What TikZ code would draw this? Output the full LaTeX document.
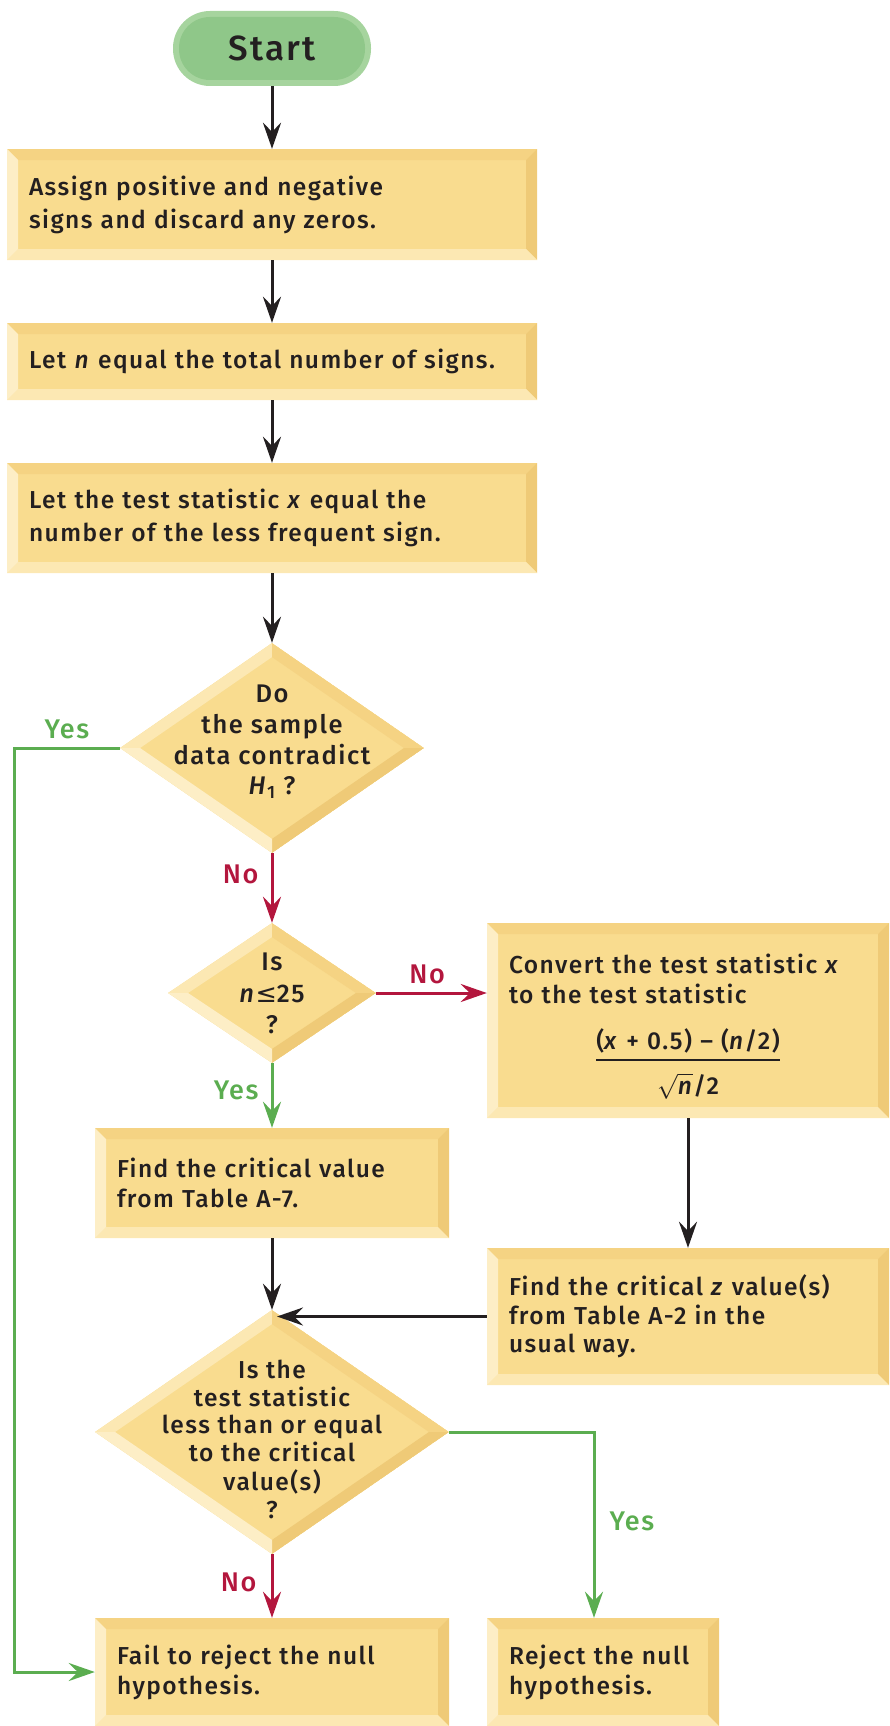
\documentclass[tikz,border=0pt]{standalone}
\usepackage{amsmath}
\usepackage{fontspec}
\setmainfont{Fira Sans}[UprightFont={* Medium}, ItalicFont={* Medium Italic}, LetterSpace=6]
\newfontfamily\symbolfont{DejaVu Sans}
\usetikzlibrary{shapes.geometric, arrows.meta}

\definecolor{ink}{HTML}{231F20}
\definecolor{boxfill}{HTML}{F9DC8F}
\definecolor{bevtop}{HTML}{F5D383}
\definecolor{bevright}{HTML}{EFCA77}
\definecolor{bevbottom}{HTML}{FCE8B3}
\definecolor{bevleft}{HTML}{FDEEC6}
\definecolor{startrim}{HTML}{A6D49E}
\definecolor{startcore}{HTML}{8FC789}
\definecolor{nored}{HTML}{B3163D}
\definecolor{yesgreen}{HTML}{5BAD50}

% centred multi-line text that does not enlarge the diamond it sits in
\newcommand\qtext[2][0pt]{\raisebox{#1}[0pt][0pt]{\makebox[0pt]{\begin{tabular}{@{}c@{}}#2\end{tabular}}}}

\tikzset{
  card/.style={rectangle, fill=boxfill, text=ink, align=left, inner xsep=22pt, inner ysep=0pt,
    font=\fontsize{24.5}{33}\selectfont,
    path picture={
      \coordinate (pp-nw) at (path picture bounding box.north west);
      \coordinate (pp-ne) at (path picture bounding box.north east);
      \coordinate (pp-se) at (path picture bounding box.south east);
      \coordinate (pp-sw) at (path picture bounding box.south west);
      \fill[bevtop] (pp-nw) -- (pp-ne) -- ([shift={(-11pt,-11pt)}]pp-ne) -- ([shift={(11pt,-11pt)}]pp-nw) -- cycle;
      \fill[bevright] (pp-ne) -- (pp-se) -- ([shift={(-11pt,11pt)}]pp-se) -- ([shift={(-11pt,-11pt)}]pp-ne) -- cycle;
      \fill[bevbottom] (pp-se) -- (pp-sw) -- ([shift={(11pt,11pt)}]pp-sw) -- ([shift={(-11pt,11pt)}]pp-se) -- cycle;
      \fill[bevleft] (pp-sw) -- (pp-nw) -- ([shift={(11pt,-11pt)}]pp-nw) -- ([shift={(11pt,11pt)}]pp-sw) -- cycle;
    }},
  decision/.style={diamond, fill=boxfill, text=ink, inner sep=0pt,
    font=\fontsize{25.5}{30.7}\selectfont,
    path picture={
      \coordinate (pq-n) at (path picture bounding box.north);
      \coordinate (pq-e) at (path picture bounding box.east);
      \coordinate (pq-s) at (path picture bounding box.south);
      \coordinate (pq-w) at (path picture bounding box.west);
      \fill[bevbottom] (pq-w) -- (pq-n) -- ([yshift=-14pt]pq-n) -- ([xshift=20pt]pq-w) -- cycle;
      \fill[bevtop] (pq-n) -- (pq-e) -- ([xshift=-20pt]pq-e) -- ([yshift=-14pt]pq-n) -- cycle;
      \fill[bevright] (pq-e) -- (pq-s) -- ([yshift=14pt]pq-s) -- ([xshift=-20pt]pq-e) -- cycle;
      \fill[bevleft] (pq-s) -- (pq-w) -- ([xshift=20pt]pq-w) -- ([yshift=14pt]pq-s) -- cycle;
    }},
  terminal/.style={rectangle, rounded corners=37pt, fill=startrim, text=ink,
    minimum width=198pt, minimum height=75pt, font=\fontsize{35}{35}\selectfont,
    path picture={
      \fill[startcore, rounded corners=31pt]
        ([shift={(6pt,-6pt)}]path picture bounding box.north west) rectangle
        ([shift={(-6pt,6pt)}]path picture bounding box.south east);
    }},
  flow/.style={draw=ink, line width=3pt, -{Stealth[length=26pt, width=18pt, inset=9pt]}},
  noflow/.style={flow, draw=nored},
  yesflow/.style={flow, draw=yesgreen},
  lbl/.style={inner sep=0pt, font=\fontsize{27}{27}\selectfont},
  nolbl/.style={lbl, text=nored},
  yeslbl/.style={lbl, text=yesgreen},
}

\begin{document}
\begin{tikzpicture}[x=1pt, y=-1pt]
\useasboundingbox (0,0) rectangle (890,1726);

% main column
\node[terminal] (start) at (272,48.5) {Start};
\node[card, minimum width=530pt, minimum height=111pt, text width=486pt] (assign) at (272,204.5)
  {Assign positive and negative\\signs and discard any zeros.};
\node[card, minimum width=530pt, minimum height=77pt, text width=486pt] (count) at (272,361.5)
  {Let \textit{n} equal the total number of signs.};
\node[card, minimum width=530pt, minimum height=110pt, text width=486pt] (stat) at (272,518)
  {Let the test statistic \textit{x} equal the\\number of the less frequent sign.};
\node[decision, minimum width=304pt, minimum height=210pt] (contra) at (272,748)
  {\qtext[-1pt]{Do\\the sample\\data contradict\\\textit{H}\textsubscript{1} ?}};
\node[decision, minimum width=208pt, minimum height=140pt, font=\fontsize{25.5}{31.5}\selectfont] (small) at (272,993)
  {\qtext[-9pt]{Is\\\textit{n}{\symbolfont ≤}25\\?}};
\node[card, minimum width=354pt, minimum height=110pt, text width=310pt,
      font=\fontsize{24.5}{30}\selectfont] (table7) at (272,1183)
  {Find the critical value\\from Table A-7.};
\node[decision, minimum width=354pt, minimum height=244pt, font=\fontsize{24.5}{27.6}\selectfont] (compare) at (272,1432)
  {\qtext[-17pt]{Is the\\test statistic\\less than or equal\\to the critical\\value(s)\\?}};
\node[card, minimum width=354pt, minimum height=108pt, text width=310pt,
      font=\fontsize{24.5}{30}\selectfont] (fail) at (272,1672)
  {Fail to reject the null\\hypothesis.};

% right column
\node[card, minimum width=402pt, minimum height=195pt, text width=358pt,
      font=\fontsize{24.5}{30}\selectfont] (convert) at (688,1020.5)
  {\rule{0pt}{31pt}Convert the test statistic \textit{x}\\to the test statistic\par\vspace{24pt}
   \centering$\genfrac{}{}{1.8pt}{0}{\mbox{(\textit{x} + 0.5) – (\textit{n}/2)}}{\rule{0pt}{28pt}\sqrt{\mbox{\textit{n}}}\mbox{/2}}$\par};
\node[card, minimum width=402pt, minimum height=137pt, text width=358pt,
      font=\fontsize{24.5}{28.5}\selectfont] (zvalue) at (688,1316.5)
  {Find the critical \textit{z} value(s)\\from Table A-2 in the\\usual way.};
\node[card, minimum width=232pt, minimum height=108pt, text width=188pt,
      font=\fontsize{24.5}{30}\selectfont] (reject) at (603,1672)
  {Reject~the~null\\hypothesis.};

\coordinate (rail) at (14,748);

% connectors
\draw[flow] (start) -- (assign);
\draw[flow] (assign) -- (count);
\draw[flow] (count) -- (stat);
\draw[flow] (stat) -- (contra);
\draw[noflow] (contra) -- node[nolbl, pos=0.3, left=12pt] {No} (small);
\draw[noflow] (small.east) -- node[nolbl, pos=0.46, above=8pt] {No} (small.east -| convert.west);
\draw[yesflow] (small) -- node[yeslbl, pos=0.42, left=12pt] {Yes} (table7);
\draw[flow] (table7) -- (compare);
\draw[flow] (convert) -- (zvalue);
\draw[flow] (zvalue.west) -- ([xshift=5pt]zvalue.west -| compare.north);
\draw[yesflow] (compare.east) -| node[yeslbl, pos=0.74, right=14pt] {Yes} ([xshift=-9pt]reject.north);
\draw[noflow] (compare) -- node[nolbl, pos=0.45, left=14pt] {No} (fail);
\draw[yesflow] (contra.west) -- node[yeslbl, pos=0.5, above=8pt] {Yes} (rail) |- (fail.west);
\end{tikzpicture}
\end{document}
